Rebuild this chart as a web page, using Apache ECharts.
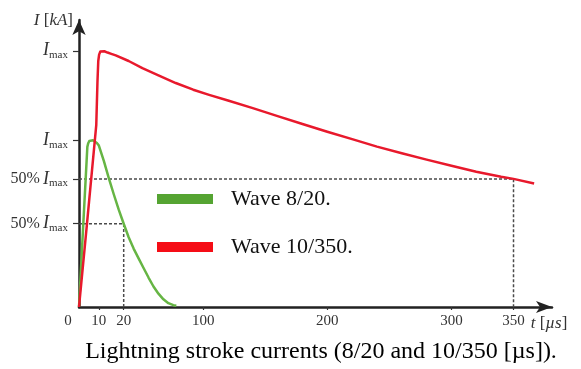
<!DOCTYPE html>
<html><head><meta charset="utf-8">
<script src="https://cdn.jsdelivr.net/npm/echarts@6/dist/echarts.min.js"></script>
<style>html,body{margin:0;padding:0;background:#fff}#c{width:581px;height:369px}</style>
</head><body><div id="c"></div>
<script>
// ---- data: time in µs, current in per-unit of the 10/350 peak ----
const wave820T = [0, 2, 4.2, 4.6, 5.2, 6, 7, 8, 9, 10, 12, 14, 16, 18, 20, 25, 30, 35, 40, 45, 50, 55, 60, 65, 70, 73];
const wave820I = [0, 0.30, 0.625, 0.638, 0.648, 0.652, 0.651, 0.646, 0.64, 0.63, 0.57, 0.503, 0.44, 0.38, 0.325, 0.272, 0.228, 0.19, 0.152, 0.115, 0.08, 0.052, 0.03, 0.015, 0.007, 0.005];
const wave10350T = [0, 4, 8.7, 9.3, 9.7, 10.1, 10.6, 11.3, 12.2, 13.5, 15, 16.8, 25, 38.8, 55, 72.4, 90, 104.8, 120, 140, 160, 180, 200, 220, 240, 260, 280, 300, 320, 340, 350, 366.6];
const wave10350I = [0, 0.323, 0.711, 0.88, 0.96, 0.985, 0.997, 1.0, 0.998, 0.993, 0.988, 0.982, 0.96, 0.932, 0.904, 0.874, 0.848, 0.828, 0.806, 0.776, 0.745, 0.714, 0.684, 0.655, 0.626, 0.6, 0.575, 0.551, 0.528, 0.508, 0.5, 0.482];
const seriesNames = ['Wave 8/20.', 'Wave 10/350.'];
const xTickLabels = [0, 10, 20, 100, 200, 300, 350];
const yTickValues = [0.325, 0.5, 0.65, 1.0];
const yTickPrefix = ['50%', '50%', '', ''];
const halfPointT = [20, 350];
const halfPointI = [0.325, 0.5];
const caption = 'Lightning stroke currents (8/20 and 10/350 [µs]).';

// ---- schematic (stretched-start) time scale of the original drawing ----
const warpT = [0, 10, 20, 100];
const warpD = [0, 16, 36, 100];
function toAxis(t) {
  for (let i = 0; i < warpT.length - 1; i++) {
    if (t <= warpT[i + 1]) return warpD[i] + (t - warpT[i]) * (warpD[i + 1] - warpD[i]) / (warpT[i + 1] - warpT[i]);
  }
  return t;
}
function fromAxis(d) {
  for (let i = 0; i < warpD.length - 1; i++) {
    if (d <= warpD[i + 1]) return warpT[i] + (d - warpD[i]) * (warpT[i + 1] - warpT[i]) / (warpD[i + 1] - warpD[i]);
  }
  return d;
}

const serif = '"Liberation Serif","Times New Roman",serif';
const chart = echarts.init(document.getElementById('c'), null, {renderer: 'canvas'});

const pts = (T, I) => T.map((t, i) => [toAxis(t), I[i]]);
const guideSeries = halfPointT.map((t, i) => ({
  type: 'line', silent: true, symbol: 'none', z: 1,
  data: [[0, halfPointI[i]], [toAxis(t), halfPointI[i]], [toAxis(t), 0]],
  lineStyle: {color: '#4a4a4a', width: 1.5, type: [3, 2]}
}));

chart.setOption({
  animation: false,
  grid: {left: 79, right: 29, top: 20, bottom: 62},
  legend: {
    data: seriesNames, orient: 'vertical', left: 157, top: 187, padding: 0,
    icon: 'rect', itemWidth: 56, itemHeight: 10, itemGap: 24,
    textStyle: {fontFamily: serif, fontSize: 22, color: '#111', lineHeight: 24, padding: [0, 0, 0, 13]}
  },
  xAxis: {
    type: 'value', min: 0, max: 381,
    name: '{i|t} [{i|µs}]', nameLocation: 'end', nameGap: -26,
    nameTextStyle: {align: 'left', verticalAlign: 'top', padding: [8, 0, 0, 0],
      fontFamily: serif, fontSize: 17, color: '#333',
      rich: {i: {fontFamily: serif, fontStyle: 'italic', fontSize: 17, color: '#333'}}},
    axisLine: {show: true, symbol: ['none', 'arrow'], symbolSize: [9, 16],
      lineStyle: {color: '#222', width: 2.5}},
    axisTick: {show: true, customValues: xTickLabels.slice(1).map(toAxis), length: 3,
      lineStyle: {color: '#333', width: 1.2}},
    axisLabel: {
      customValues: xTickLabels.map(toAxis), margin: 7,
      fontFamily: serif, fontSize: 15, color: '#333',
      formatter: v => { const t = Math.round(fromAxis(v)); return t === 0 ? '{z|0}' : String(t); },
      rich: {z: {fontFamily: serif, fontSize: 15, color: '#333', padding: [0, 22, 0, 0]}}
    },
    splitLine: {show: false}
  },
  yAxis: {
    type: 'value', min: 0, max: 1.12,
    name: '{i|I} [{i|kA}]', nameLocation: 'end', nameGap: 0,
    nameTextStyle: {align: 'right', verticalAlign: 'middle', padding: [2, 6, 0, 0],
      fontFamily: serif, fontSize: 17, color: '#333',
      rich: {i: {fontFamily: serif, fontStyle: 'italic', fontSize: 17, color: '#333'}}},
    axisLine: {show: true, symbol: ['none', 'arrow'], symbolSize: [10, 15],
      lineStyle: {color: '#222', width: 2.5}},
    axisTick: {show: true, customValues: yTickValues, length: 6,
      lineStyle: {color: '#333', width: 1.2}},
    axisLabel: {
      customValues: yTickValues, margin: 11,
      formatter: v => {
        let k = 0;
        yTickValues.forEach((y, i) => { if (Math.abs(y - v) < Math.abs(yTickValues[k] - v)) k = i; });
        return (yTickPrefix[k] ? '{p|' + yTickPrefix[k] + '\u2009}' : '') + '{i|I}{s|max}';
      },
      rich: {
        p: {fontFamily: serif, fontSize: 16, color: '#333'},
        i: {fontFamily: serif, fontStyle: 'italic', fontSize: 18, color: '#333', lineHeight: 20},
        s: {fontFamily: serif, fontSize: 11, color: '#333', verticalAlign: 'bottom', lineHeight: 20}
      }
    },
    splitLine: {show: false}
  },
  series: guideSeries.concat([
    {name: seriesNames[0], type: 'line', symbol: 'none', z: 3, smooth: false,
      data: pts(wave820T, wave820I), color: '#55a432', lineStyle: {width: 2.5, color: '#66b544', join: 'round'}},
    {name: seriesNames[1], type: 'line', symbol: 'none', z: 3, smooth: false,
      data: pts(wave10350T, wave10350I), color: '#f50d16', lineStyle: {width: 2.5, color: '#e8192c', join: 'round'}}
  ]),
  graphic: [{
    type: 'text', x: 321, y: 352,
    style: {text: caption, font: '24px ' + serif, fill: '#000', textAlign: 'center', textVerticalAlign: 'middle'}
  }]
});
</script>
</body></html>
